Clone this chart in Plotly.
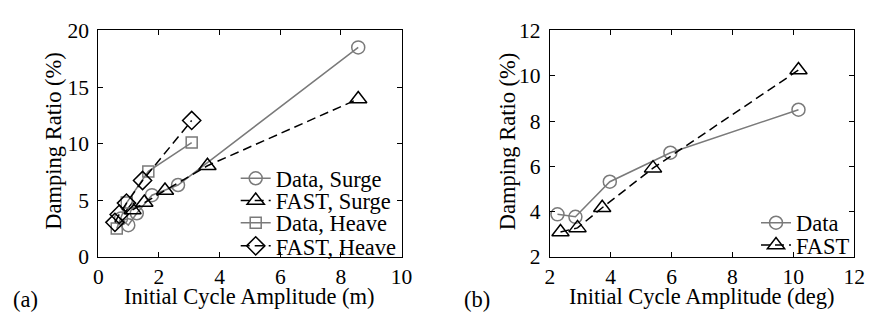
import plotly.graph_objects as go

# ---- Data (a) ----
ds_x = [0.75, 0.99, 1.27, 1.77, 2.63, 8.57]
ds_y = [3.4, 2.8, 3.85, 5.45, 6.35, 18.5]
fs_x = [1.13, 1.52, 2.2, 3.6, 8.57]
fs_y = [4.15, 4.8, 5.87, 8.05, 13.95]
dh_x = [0.61, 0.94, 1.65, 3.08]
dh_y = [2.5, 4.8, 7.55, 10.1]
fh_x = [0.55, 0.69, 0.93, 1.46, 3.08]
fh_y = [3.05, 3.75, 4.75, 6.75, 12.05]

# ---- Data (b) ----
dp_x = [2.25, 2.84, 3.97, 5.96, 10.17]
dp_y = [3.88, 3.77, 5.32, 6.6, 8.5]
fp_x = [2.35, 2.91, 3.72, 5.39, 10.17]
fp_y = [3.1, 3.28, 4.17, 5.92, 10.25]

W, H = 875, 325
FONT = "Liberation Serif, Times New Roman, DejaVu Serif, serif"
GRAY = "#7a7a7a"
DASH = "9px,5px"

def px(x):
    return x / W

def py(y):
    return 1 - y / H

fig = go.Figure()

def add(x, y, name, color, dash, symbol, size, xa, ya, leg):
    fig.add_trace(go.Scatter(
        x=x, y=y, name=name, mode="lines+markers",
        line=dict(color=color, width=1.5, dash=dash),
        marker=dict(symbol=symbol, size=size, color=color,
                    line=dict(color=color, width=1.5)),
        xaxis=xa, yaxis=ya, legend=leg, showlegend=True))

add(ds_x, ds_y, "Data, Surge", GRAY, "solid", "circle-open", 13, "x", "y", "legend")
add(fs_x, fs_y, "FAST, Surge", "black", DASH, "triangle-up-open", 15, "x", "y", "legend2")
add(dh_x, dh_y, "Data, Heave", GRAY, "solid", "square-open", 11, "x", "y", "legend3")
add(fh_x, fh_y, "FAST, Heave", "black", DASH, "diamond-open", 14, "x", "y", "legend4")
add(dp_x, dp_y, "Data", GRAY, "solid", "circle-open", 13, "x2", "y2", "legend5")
add(fp_x, fp_y, "FAST", "black", DASH, "triangle-up-open", 15, "x2", "y2", "legend6")

ax_common = dict(showline=True, linecolor="black", linewidth=1, mirror="ticks",
                 ticks="inside", ticklen=5, tickcolor="black", showgrid=False,
                 zeroline=False, tickfont=dict(family=FONT, size=21.5, color="black"))

ytop, ybot = 21, 265.5
fig.update_layout(
    width=W, height=H, margin=dict(l=0, r=0, t=0, b=0),
    paper_bgcolor="white", plot_bgcolor="white", showlegend=True,
    font=dict(family=FONT, size=22, color="black"),
    xaxis=dict(domain=[px(95), px(404)], range=[0, 10], dtick=2, anchor="y",
               ticklabelstandoff=0, **ax_common),
    yaxis=dict(domain=[py(ybot), py(ytop)], range=[0, 20], dtick=5, anchor="x",
               ticklabelstandoff=4, **ax_common),
    xaxis2=dict(domain=[px(555), px(865)], range=[2, 12], dtick=2, anchor="y2",
                ticklabelstandoff=0, **ax_common),
    yaxis2=dict(domain=[py(ybot), py(ytop)], range=[2, 12], dtick=2, anchor="x2",
                ticklabelstandoff=4, **ax_common),
)

def legend_at(xp, yp):
    return dict(x=px(xp), y=py(yp), xanchor="left", yanchor="middle",
                bgcolor="rgba(0,0,0,0)", borderwidth=0,
                font=dict(family=FONT, size=22.5, color="black"))

fig.update_layout(
    legend=legend_at(235, 181),
    legend2=legend_at(235, 205),
    legend3=legend_at(235, 229),
    legend4=legend_at(235, 254),
    legend5=legend_at(765, 229),
    legend6=legend_at(765, 253),
)

annots = [
    dict(text="Initial Cycle Amplitude (m)", x=(px(95) + px(404)) / 2, y=py(308)),
    dict(text="Initial Cycle Amplitude (deg)", x=(px(555) + px(865)) / 2, y=py(308)),
    dict(text="Damping Ratio (%)", x=px(49), y=py(141), textangle=-90),
    dict(text="Damping Ratio (%)", x=px(512), y=py(141), textangle=-90),
    dict(text="(a)", x=px(21), y=py(311)),
    dict(text="(b)", x=px(481), y=py(311)),
]
for a in annots:
    fig.add_annotation(xref="paper", yref="paper", showarrow=False,
                       xanchor="center", yanchor="middle",
                       font=dict(family=FONT, size=22.5, color="black"), **a)

fig.write_html("out.html")
